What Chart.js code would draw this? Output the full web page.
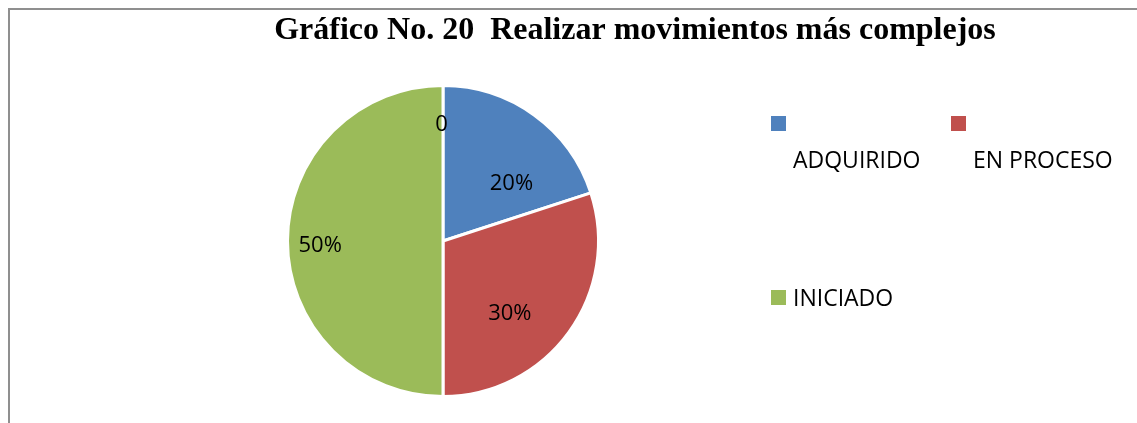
<!DOCTYPE html>
<html>
<head>
<meta charset="utf-8">
<script src="https://cdn.jsdelivr.net/npm/chart.js@4.4.1/dist/chart.umd.min.js"></script>
<style>
  html, body { margin: 0; padding: 0; background: #fff; }
  #frame { position: absolute; left: 8px; top: 8px; width: 1129px; height: 415px;
           border-left: 2px solid #8f8f8f; border-top: 2px solid #8f8f8f; box-sizing: border-box; }
  #wrap { position: absolute; left: 0; top: 0; width: 1137px; height: 423px; }
</style>
</head>
<body>
<div id="frame"></div>
<div id="wrap"><canvas id="c" width="1137" height="423"></canvas></div>
<script>
const chartTitle = "Gráfico No. 20  Realizar movimientos más complejos";
const categories = ["ADQUIRIDO", "EN PROCESO", "INICIADO", ""];
const values = [20, 30, 50, 0];
const valueLabels = ["20%", "30%", "50%", "0"];
const colors = ["#4F81BD", "#C0504D", "#9BBB59", "#F79646"];

// label placement relative to pie center, in units of radius
const labelOffsets = [[0.44, -0.37], [0.43, 0.47], [-0.79, 0.03], [-0.01, -0.75]];

const overlay = {
  id: 'overlay',
  afterDraw(chart) {
    const ctx = chart.ctx;
    const meta = chart.getDatasetMeta(0);
    const arc0 = meta.data[0];
    const cx = arc0.x, cy = arc0.y, r = arc0.outerRadius;
    ctx.save();
    // title
    ctx.fillStyle = '#000';
    ctx.font = 'bold 32px "Liberation Serif", "Times New Roman", serif';
    ctx.textAlign = 'center';
    ctx.textBaseline = 'middle';
    ctx.fillText(chartTitle, 635, 31);
    // data labels
    ctx.font = '22px "Open Sans", sans-serif';
    valueLabels.forEach((t, i) => {
      const o = labelOffsets[i];
      ctx.fillText(t, cx + o[0] * r, cy + o[1] * r);
    });
    // legend (custom layout like the reference)
    ctx.font = '23px "Open Sans", sans-serif';
    const legendPos = [[771, 116, 793, 161], [951, 116, 973, 161], [771, 290, 793, 299]];
    ctx.textAlign = 'left';
    for (let i = 0; i < 3; i++) {
      const p = legendPos[i];
      ctx.fillStyle = colors[i];
      ctx.fillRect(p[0], p[1], 15, 15);
      ctx.fillStyle = '#000';
      ctx.fillText(categories[i], p[2], p[3]);
    }
    ctx.restore();
  }
};

new Chart(document.getElementById('c'), {
  type: 'pie',
  data: {
    labels: categories,
    datasets: [{
      data: values,
      backgroundColor: colors,
      borderColor: '#ffffff',
      borderWidth: 3
    }]
  },
  options: {
    responsive: false,
    animation: false,
    events: [],
    layout: { padding: { top: 84, bottom: 25, left: 286, right: 537 } },
    plugins: {
      legend: { display: false },
      title: { display: false },
      tooltip: { enabled: false }
    }
  },
  plugins: [overlay]
});
</script>
</body>
</html>
